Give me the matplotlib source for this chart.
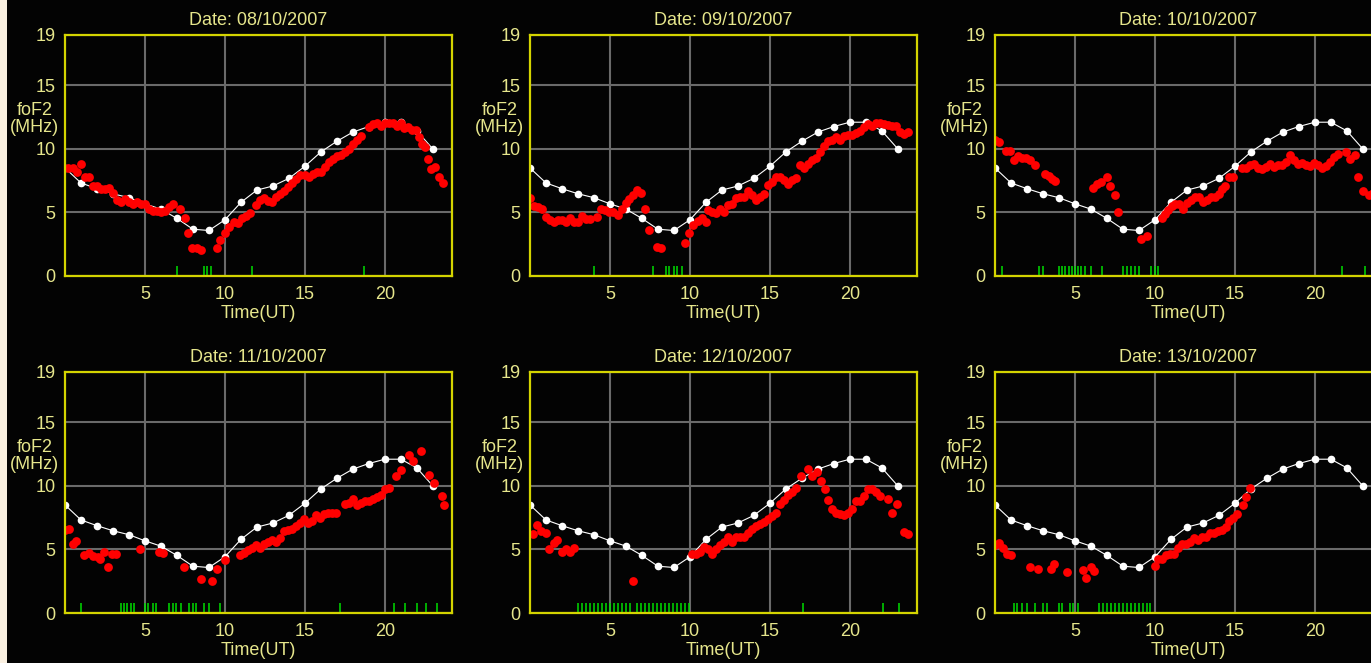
import matplotlib.pyplot as plt
from matplotlib.patches import Rectangle
from matplotlib.transforms import blended_transform_factory

plt.rcParams['font.family'] = ['Liberation Sans', 'DejaVu Sans']

dates = ['08/10/2007', '09/10/2007', '10/10/2007',
         '11/10/2007', '12/10/2007', '13/10/2007']

# hourly median foF2 (white curve, same on every day)
median_hours = list(range(24))
median_fof2 = [8.5, 7.32, 6.87, 6.47, 6.16, 5.68, 5.26, 4.53, 3.68, 3.58, 4.42, 5.79,
               6.76, 7.08, 7.68, 8.63, 9.76, 10.6, 11.32, 11.76, 12.1, 12.1, 11.42, 10.0]

# observed foF2 (red dots), one pair of lists per day
t_0810 = [0.2, 0.5, 0.77, 1.0, 1.25, 1.5, 1.76, 2.0, 2.26, 2.5, 2.76, 3.0, 3.26, 3.5, 3.76,
          4.0, 4.25, 4.5, 4.75, 5.0, 5.25, 5.5, 5.75, 6.0, 6.25, 6.5, 6.75, 7.22, 7.5, 7.72,
          7.95, 8.24, 8.53, 9.48, 9.69, 9.98, 10.27, 10.54, 10.79, 11.06, 11.3, 11.56, 11.93,
          12.18, 12.47, 12.72, 12.97, 13.2, 13.46, 13.71, 13.96, 14.21, 14.46, 14.71, 15.0,
          15.25, 15.5, 15.75, 16.0, 16.24, 16.5, 16.74, 16.99, 17.24, 17.49, 17.74, 17.98,
          18.26, 18.5, 18.98, 19.23, 19.48, 19.73, 19.98, 20.23, 20.48, 20.73, 20.98, 21.22,
          21.47, 21.72, 21.97, 22.13, 22.34, 22.5, 22.67, 22.88, 23.13, 23.37, 23.62]
f_0810 = [8.46, 8.46, 8.2, 8.8, 7.8, 7.8, 7.1, 7.1, 6.83, 6.83, 6.96, 6.5, 5.97, 5.84, 6.05,
          5.79, 5.65, 5.81, 5.65, 5.65, 5.31, 5.13, 5.13, 5.05, 5.13, 5.39, 5.65, 5.3, 4.53, 3.35,
          2.23, 2.17, 2.04, 2.17, 2.83, 3.35, 3.87, 4.27, 4.19, 4.53, 4.71, 4.97, 5.6,
          5.97, 6.13, 5.92, 5.86, 6.23, 6.49, 6.7, 7.02, 7.28, 7.62, 7.93, 7.93,
          7.8, 8.06, 8.19, 8.19, 8.59, 8.93, 9.24, 9.42, 9.55, 9.76, 9.97, 10.37,
          10.68, 11.0, 11.73, 11.94, 12.07, 11.83, 12.0, 12.07, 12.07, 11.78, 12.04, 11.65,
          11.73, 11.52, 11.47, 10.94, 10.42, 10.16, 9.24, 8.38, 8.59, 7.8, 7.33]

t_0910 = [0.0, 0.25, 0.5, 0.75, 1.0, 1.24, 1.49, 1.74, 1.99, 2.24, 2.49, 2.74, 2.99, 3.24,
          3.49, 3.73, 4.19, 4.46, 4.71, 4.96, 5.21, 5.5, 5.75, 6.02, 6.22, 6.43, 6.68, 6.97,
          7.18, 7.47, 7.97, 8.22, 9.67, 9.96, 10.2, 10.5, 10.75, 11.0, 11.12, 11.37, 11.62,
          11.87, 12.16, 12.41, 12.66, 12.9, 13.15, 13.4, 13.65, 13.9, 14.15, 14.4, 14.65, 14.9,
          15.15, 15.39, 15.64, 15.89, 16.14, 16.39, 16.64, 16.89, 17.14, 17.39, 17.63, 17.88,
          18.13, 18.38, 18.63, 18.88, 19.13, 19.38, 19.63, 19.88, 20.12, 20.37, 20.62, 20.87,
          21.12, 21.37, 21.62, 21.87, 22.12, 22.37, 22.61, 22.86, 23.11, 23.36, 23.61]
f_0910 = [6.15, 5.5, 5.39, 5.24, 4.66, 4.4, 4.27, 4.4, 4.4, 4.27, 4.53, 4.27, 4.27, 4.71,
          4.45, 4.45, 4.61, 5.31, 5.18, 5.0, 5.0, 4.79, 5.31, 5.71, 6.02, 6.36, 6.75, 6.54,
          5.31, 3.61, 2.3, 2.17, 2.57, 3.35, 3.98, 4.35, 4.53, 4.27, 5.18, 5.05, 4.92,
          5.24, 5.05, 5.58, 5.65, 6.1, 6.18, 6.23, 6.7, 6.41, 5.97, 6.23, 6.49, 7.15,
          7.41, 7.8, 7.8, 7.54, 7.23, 7.54, 7.72, 8.72, 8.46, 8.85, 9.16, 9.32,
          9.76, 10.21, 10.63, 10.73, 10.94, 10.68, 11.02, 11.13, 11.13, 11.26, 11.41, 11.73,
          11.94, 11.78, 12.04, 12.04, 11.94, 11.88, 11.83, 11.78, 11.34, 11.2, 11.36]

t_1010 = [0.0, 0.25, 0.67, 0.91, 1.2, 1.46, 1.7, 1.95, 2.2, 2.49, 3.12, 3.37, 3.58, 3.74,
          6.11, 6.36, 6.61, 6.99, 7.19, 7.48, 7.69, 9.11, 9.48, 10.42, 10.62, 10.83, 11.04,
          11.25, 11.5, 11.75, 12.0, 12.25, 12.49, 12.74, 12.99, 13.24, 13.49, 13.74, 13.99,
          14.2, 14.41, 14.62, 14.89, 15.47, 15.72, 15.97, 16.22, 16.47, 16.71, 16.96, 17.21,
          17.46, 17.71, 17.96, 18.21, 18.46, 18.71, 18.96, 19.21, 19.46, 19.71, 19.96, 20.21,
          20.46, 20.71, 20.96, 21.21, 21.46, 21.96, 22.21, 22.5, 22.7, 23.0, 23.4, 23.65]
f_1010 = [10.68, 10.55, 9.84, 9.84, 9.16, 9.42, 9.29, 9.29, 9.16, 8.72, 8.06, 7.85, 7.67, 7.49,
          6.94, 7.23, 7.41, 7.8, 7.1, 6.36, 5.0, 2.88, 3.14, 4.53, 4.87, 5.18, 5.5,
          5.65, 5.65, 5.29, 5.71, 5.97, 6.18, 6.23, 5.84, 5.97, 6.18, 6.18, 6.49,
          6.81, 7.07, 7.8, 7.8, 8.46, 8.46, 8.72, 8.85, 8.53, 8.38, 8.59, 8.85,
          8.59, 8.72, 8.72, 8.98, 9.5, 9.16, 8.85, 8.9, 8.72, 8.64, 8.9, 8.72,
          8.46, 8.64, 8.98, 9.37, 9.58, 9.76, 9.24, 9.5, 7.75, 6.7, 6.36, 6.5]

t_1110 = [0.0, 0.25, 0.5, 0.71, 1.21, 1.5, 1.75, 2.05, 2.21, 2.46, 2.67, 2.96, 3.21, 4.68,
          5.89, 6.14, 7.47, 8.48, 9.19, 9.48, 10.02, 10.94, 11.19, 11.44, 11.69, 11.94, 12.19,
          12.44, 12.69, 12.94, 13.19, 13.44, 13.69, 13.95, 14.2, 14.45, 14.7, 14.95, 15.2,
          15.45, 15.7, 15.95, 16.2, 16.45, 16.7, 16.95, 17.54, 17.79, 18.04, 18.29, 18.54,
          18.79, 19.04, 19.29, 19.54, 19.79, 20.04, 20.29, 20.67, 21.0, 21.5, 21.75, 22.25,
          22.75, 23.05, 23.55, 23.72]
f_1110 = [6.53, 6.63, 5.39, 5.66, 4.53, 4.74, 4.47, 4.42, 4.21, 4.79, 3.61, 4.66, 4.66, 5.0,
          4.79, 4.74, 3.61, 2.68, 2.55, 3.47, 4.16, 4.53, 4.74, 4.95, 5.13, 5.32, 5.13,
          5.39, 5.58, 5.74, 5.58, 5.92, 6.45, 6.5, 6.63, 6.84, 7.05, 7.37, 7.05,
          7.24, 7.68, 7.5, 7.76, 7.84, 7.84, 7.89, 8.55, 8.68, 8.95, 8.47, 8.68,
          8.82, 8.82, 8.95, 9.16, 9.26, 9.74, 9.87, 10.79, 11.26, 12.42, 11.97, 12.71,
          10.84, 10.21, 9.21, 8.5]

t_1210 = [0.17, 0.46, 0.71, 1.0, 1.2, 1.49, 1.7, 1.99, 2.24, 2.49, 2.74, 6.47, 10.12, 10.37,
          10.62, 10.87, 11.12, 11.41, 11.66, 11.91, 12.16, 12.41, 12.66, 12.9, 13.15, 13.4,
          13.65, 13.9, 14.15, 14.4, 14.65, 14.9, 15.15, 15.39, 15.64, 15.89, 16.14, 16.39,
          16.64, 16.93, 17.39, 17.63, 17.93, 18.17, 18.46, 18.63, 18.88, 19.13, 19.38, 19.63,
          19.88, 20.12, 20.37, 20.62, 20.87, 21.12, 21.37, 21.62, 21.87, 22.41, 22.61, 22.95,
          23.4, 23.65]
f_1210 = [6.18, 6.89, 6.45, 6.32, 5.0, 5.53, 5.74, 4.79, 5.0, 4.79, 5.13, 2.55, 4.66, 4.61,
          4.79, 5.18, 5.0, 4.66, 5.0, 5.32, 5.58, 6.0, 5.58, 6.0, 6.0, 6.0,
          6.32, 6.58, 6.84, 6.97, 7.16, 7.37, 7.63, 7.89, 8.55, 8.87, 9.26, 9.53,
          9.87, 10.74, 11.32, 10.79, 11.1, 10.37, 9.79, 8.87, 8.21, 7.84, 7.76, 7.68,
          7.89, 8.16, 8.82, 8.82, 9.21, 9.79, 9.79, 9.53, 9.21, 9.0, 7.89, 8.6,
          6.37, 6.18]

t_1310 = [0.0, 0.25, 0.5, 0.75, 1.0, 2.2, 2.7, 3.49, 3.69, 4.48, 5.48, 5.68, 5.98, 6.22,
          10.0, 10.21, 10.46, 10.71, 10.95, 11.2, 11.45, 11.7, 11.95, 12.2, 12.45, 12.7,
          12.95, 13.2, 13.44, 13.69, 13.94, 14.19, 14.44, 14.65, 14.9, 15.15, 15.48, 15.68,
          15.93]
f_1310 = [5.34, 5.47, 5.13, 4.68, 4.55, 3.6, 3.47, 3.47, 3.89, 3.26, 3.37, 2.76, 3.6, 3.34,
          3.68, 4.21, 4.26, 4.53, 4.68, 4.68, 5.13, 5.39, 5.39, 5.58, 5.92, 5.74,
          6.0, 6.0, 6.26, 6.32, 6.45, 6.53, 6.79, 7.24, 7.5, 7.76, 8.47, 9.16,
          9.87]

# times of the green marks along the bottom axis
g_0810 = [0.0, 7.0, 8.7, 8.9, 9.15, 11.7, 18.7]
g_0910 = [4.0, 7.7, 8.5, 8.7, 9.0, 9.2, 9.5]
g_1010 = [0.45, 2.75, 3.0, 4.0, 4.2, 4.4, 4.6, 4.8, 5.0, 5.2, 5.4, 5.6, 6.0, 6.7,
          8.0, 8.25, 8.5, 8.75, 9.0, 9.75, 10.0, 10.2, 21.7, 23.15]
g_1110 = [1.0, 3.5, 3.7, 3.9, 4.1, 4.3, 5.0, 5.2, 5.5, 5.7, 6.5, 6.75, 6.95, 7.25,
          7.75, 8.0, 8.2, 8.7, 9.0, 9.7, 17.2, 20.55, 21.25, 22.0, 22.6, 23.25]
g_1210 = [0.0, 3.0, 3.25, 3.5, 3.75, 4.0, 4.25, 4.5, 4.75, 5.0, 5.25, 5.5, 5.75, 6.0, 6.25,
          6.7, 6.95, 7.2, 7.45, 7.7, 7.95, 8.2, 8.45, 8.7, 8.95, 9.2, 9.45, 9.7, 9.95,
          17.1, 22.1, 23.1]
g_1310 = [1.2, 1.4, 1.7, 2.0, 2.5, 3.0, 3.25, 4.0, 4.2, 4.7, 4.9, 5.2,
          6.5, 6.75, 7.0, 7.25, 7.5, 7.75, 8.0, 8.25, 8.5, 8.75, 9.0, 9.25, 9.5, 9.7]

obs_t = [t_0810, t_0910, t_1010, t_1110, t_1210, t_1310]
obs_f = [f_0810, f_0910, f_1010, f_1110, f_1210, f_1310]
marks = [g_0810, g_0910, g_1010, g_1110, g_1210, g_1310]

BG = '#030303'
TXT = '#e6e68c'
FRAME = '#d4d400'
GRID = '#6a6a6a'

W, H = 1371, 663
fig = plt.figure(figsize=(W / 100, H / 100), dpi=100, facecolor=BG)
# beige strip on the left edge
fig.patches.append(Rectangle((0, 0), 7 / W, 1, transform=fig.transFigure,
                             facecolor='#faf0e1', edgecolor='none', zorder=0))

lefts = [65, 530, 995]
tops = [34.5, 371.5]
ax_w, ax_h = 387, 241.5

for i in range(6):
    row, col = divmod(i, 3)
    ax = fig.add_axes([lefts[col] / W, (H - tops[row] - ax_h) / H, ax_w / W, ax_h / H])
    ax.set_facecolor(BG)
    ax.set_xlim(0, 24.2)
    ax.set_ylim(0, 19)
    ax.set_xticks([5, 10, 15, 20])
    ax.set_yticks([0, 5, 10, 15, 19])
    ax.tick_params(length=0, labelsize=13, colors=TXT, pad=7)
    ax.grid(True, color=GRID, linewidth=1.5)
    ax.set_axisbelow(True)
    for sp in ax.spines.values():
        sp.set_color(FRAME)
        sp.set_linewidth(1.6)
        sp.set_zorder(5)

    ax.vlines(marks[i], 0, 0.8, colors='#00dd00', linewidth=1.1, zorder=3)
    ax.plot(median_hours, median_fof2, color='white', linewidth=0.8,
            marker='o', markersize=5.5, markeredgewidth=0, zorder=3)
    ax.scatter(obs_t[i], obs_f[i], s=40, color='#ff0000', linewidths=0, zorder=4)

    ax.set_title(f'Date: {dates[i]}', color=TXT, fontsize=13, pad=7)
    ax.set_xlabel('Time(UT)', color=TXT, fontsize=13, labelpad=1.5)
    trans = blended_transform_factory(ax.transAxes, ax.transData)
    ax.text(-0.078, 12.35, 'foF2\n(MHz)', transform=trans, ha='center', va='center',
            color=TXT, fontsize=13, linespacing=1.0)

fig.savefig('out.png', dpi=100, facecolor=BG)
